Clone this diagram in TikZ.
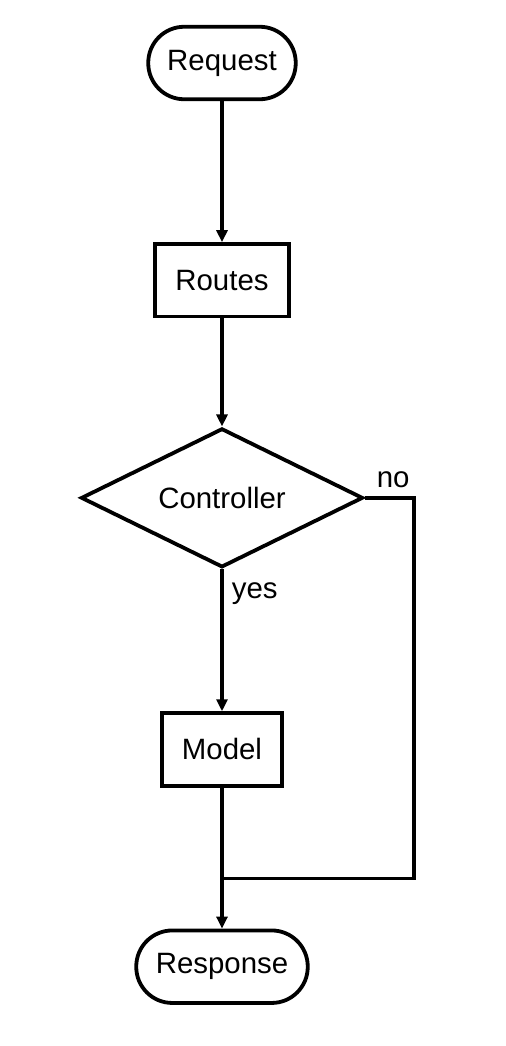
\documentclass[tikz,border=0pt]{standalone}
\usepackage{fontspec}
\setmainfont{Liberation Sans}
\usetikzlibrary{shapes.geometric}
\usetikzlibrary {positioning}
\usetikzlibrary{arrows.meta}

\begin{document}
\begin{tikzpicture}[-{Triangle[length=6pt,width=5.5pt]},
            line width=1.9pt,
            font=\fontsize{14.7}{17}\selectfont,
            terminal/.style = {draw,rectangle,rounded corners=18pt,fill=white,
                minimum height=36.25pt,align=center},
            process/.style = {draw,rectangle,fill=white,
                minimum height=36.25pt,align=center},
            decision/.style = {draw,diamond,aspect=2,fill=white,
                minimum width=141pt,minimum height=69.5pt,inner sep=0pt},
            tag/.style = {inner sep=4pt}]
            \useasboundingbox (-111pt,31.5pt) rectangle (142pt,-491.5pt);
            \node[terminal,minimum width=73.75pt](Request) at (0,0) {Request};
            \node[process,minimum width=66.75pt,below=70.5pt of Request](Routes) {Routes};
            \node[decision,below=54pt of Routes](Controller) {Controller};
            \node[process,minimum width=59.75pt,below=71pt of Controller](Model) {Model};
            \node[terminal,minimum width=85.75pt,below=70.5pt of Model](Response) {Response};
            \coordinate (turn) at ([xshift=24.5pt]Controller.east);
            \coordinate (join) at ([yshift=-45.5pt]Model.south);
            \node[tag,anchor=south west,xshift=1pt](no) at (Controller.east) {no};
            \node[tag,anchor=north west,yshift=-2pt](yes) at (Controller.south) {yes};
            \path[]
                (Request) edge (Routes)
                (Routes) edge (Controller)
                (Controller) edge (Model)
                (Model) edge (Response);
            \draw[-] (Controller.east) -- (turn) |- (join);
        \end{tikzpicture}
\end{document}
